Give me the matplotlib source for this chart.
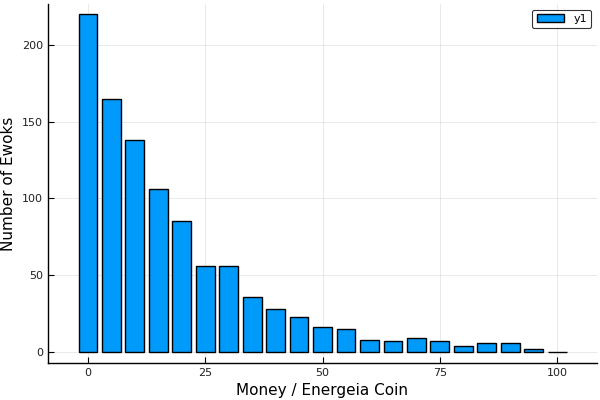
import matplotlib.pyplot as plt

# Bin centres (money) and counts
money = [0, 5, 10, 15, 20, 25, 30, 35, 40, 45, 50, 55, 60, 65, 70, 75, 80, 85, 90, 95, 100]
ewoks = [220, 165, 138, 106, 85, 56, 56, 36, 28, 23, 16, 15, 8, 7, 9, 7, 4, 6, 6, 2, 0]

x_ticks = [0, 25, 50, 75, 100]
y_ticks = [0, 50, 100, 150, 200]

BLUE = "#009AFA"

fig = plt.figure(figsize=(6, 4), dpi=100)
ax = fig.add_axes([0.08, 0.0925, 0.915, 0.8975])

ax.bar(money, ewoks, width=4, color=BLUE, edgecolor="black", linewidth=1.0,
       label="y1", zorder=2)

ax.set_xlim(-8.5, 108.5)
ax.set_ylim(-7.2, 226.7)
ax.set_xticks(x_ticks)
ax.set_yticks(y_ticks)

ax.grid(True, color="#000000", alpha=0.1, linewidth=0.6, zorder=0)
ax.set_axisbelow(True)
for side in ("top", "right"):
    ax.spines[side].set_visible(False)
for side in ("left", "bottom"):
    ax.spines[side].set_linewidth(1.0)
ax.tick_params(labelsize=8, length=4, width=0.8, colors="black",
               labelcolor="#202020", direction="in")

ax.set_xlabel("Money / Energeia Coin", fontsize=11)
ax.set_ylabel("Number of Ewoks", fontsize=11)

leg = ax.legend(loc="upper right", fontsize=8, frameon=True, fancybox=True,
                edgecolor="black", handlelength=2.5, borderpad=0.4)
leg.get_frame().set_linewidth(0.8)

fig.savefig("out.png")
